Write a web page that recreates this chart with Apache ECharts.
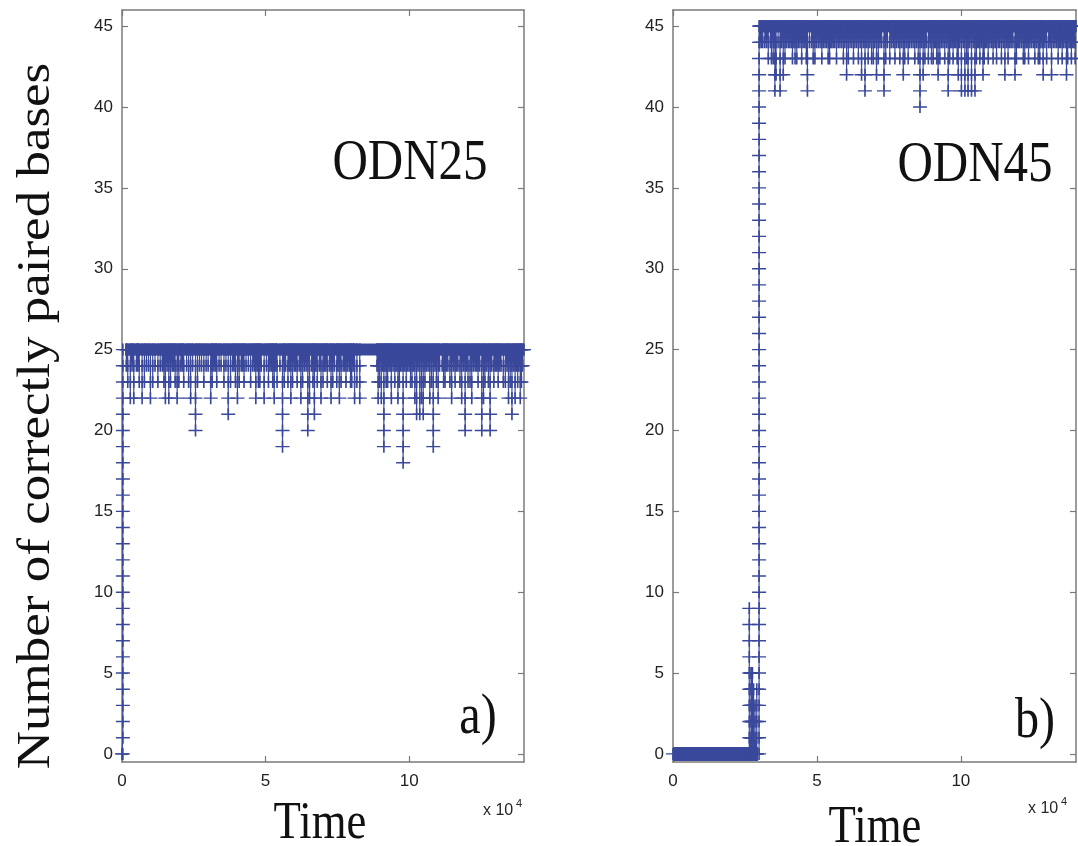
<!DOCTYPE html>
<html>
<head>
<meta charset="utf-8">
<script src="https://cdn.jsdelivr.net/npm/echarts@6/dist/echarts.min.js"></script>
<style>
html,body{margin:0;padding:0;background:#fff;}
#chart{width:1078px;height:846px;}
</style>
</head>
<body>
<div id="chart"></div>
<script>
// ---------- DATA (time in units of 1e4) ----------
const xTicks = [0, 5, 10];
const yTicks = [0, 5, 10, 15, 20, 25, 30, 35, 40, 45];

// Panel a) ODN25
const riseTimeA = 0.03;
const riseLevelsA = [0,1,2,3,4,5,6,7,8,9,10,11,12,13,14,15,16,17,18,19,20,21,22,23,24,25];
const plateauA = [0.11, 14, 25]; // start, end, level
const dropTimesA = [0.20,0.29,0.41,0.50,0.60,0.70,0.85,0.99,1.15,1.25,1.40,1.51,1.63,1.75,1.85,1.92,2.05,2.15,2.25,2.39,
  2.56,2.70,2.85,3.00,3.09,3.20,3.30,3.45,3.55,3.70,3.85,3.95,4.02,4.15,4.25,4.40,4.55,4.66,4.75,4.85,
  4.95,5.10,5.20,5.30,5.40,5.59,5.70,5.78,5.88,6.00,6.10,6.23,6.35,6.47,6.60,6.70,6.80,6.93,7.05,7.15,
  7.28,7.40,7.48,7.57,7.70,7.80,7.92,8.00,8.10,8.28,8.92,9.03,9.12,9.20,9.30,9.38,9.50,9.61,9.70,9.79,
  9.90,10.00,10.10,10.20,10.26,10.37,10.49,10.60,10.72,10.84,10.95,11.01,11.15,11.25,11.35,11.48,11.60,11.70,11.83,11.95,
  12.05,12.18,12.30,12.40,12.53,12.70,12.82,13.00,13.10,13.20,13.35,13.46,13.58,13.69,13.78,13.87,13.95];
const dropMinsA = [23,22,22,24,23,22,24,22,24,23,24,22,22,24,23,22,24,23,24,22,
  20,24,23,24,22,24,23,24,23,21,24,23,22,24,23,24,24,22,23,24,
  22,23,24,22,23,19,24,23,22,24,23,22,24,20,24,21,23,22,24,23,
  22,24,23,22,24,23,24,23,22,22,22,22,19,23,24,22,23,22,24,18,
  23,24,23,22,21,21,21,24,22,19,23,22,24,23,24,22,23,24,22,20,
  23,22,24,23,20,24,20,24,23,24,23,22,21,22,23,22,24];
const shallowTimesA = [0.15,0.35,0.55,0.78,0.92,1.07,1.33,1.46,1.57,1.69,1.80,1.98,2.10,2.32,2.46,2.63,2.77,2.93,3.14,3.25,
  3.38,3.62,3.78,3.90,4.08,4.20,4.32,4.48,4.61,4.71,4.80,5.03,5.15,5.25,5.35,5.50,5.65,5.83,5.94,6.05,
  6.17,6.29,6.41,6.53,6.65,6.75,6.87,7.00,7.10,7.22,7.34,7.52,7.63,7.75,7.86,7.96,8.05,8.18,8.88,8.97,
  9.08,9.16,9.25,9.34,9.44,9.55,9.66,9.75,9.85,9.95,10.05,10.15,10.31,10.43,10.55,10.66,10.78,10.90,11.06,11.20,
  11.30,11.42,11.54,11.65,11.77,11.89,12.00,12.12,12.24,12.35,12.46,12.59,12.64,12.76,12.88,12.95,13.05,13.15,13.28,13.41,
  13.52,13.64,13.73,13.82,13.91];
const shallowMinsA = [24,24,24,23,24,23,24,23,24,23,24,23,24,23,24,23,24,24,23,24,
  24,24,23,24,23,24,24,23,24,24,23,24,24,23,24,24,23,24,23,24,
  24,23,24,22,23,24,24,23,24,24,23,24,23,24,24,23,24,23,24,23,
  24,24,23,24,24,24,23,24,24,24,23,24,24,22,23,24,23,24,24,23,
  24,23,24,24,23,24,24,23,24,24,24,22,23,23,24,23,24,24,23,24,
  23,24,24,24,23];

// Panel b) ODN45
const plateauB0 = [0, 2.96, 0];   // start, end, level
const spikeTimesB = [2.65, 2.71, 2.73, 2.76, 2.80, 2.85, 2.91];
const spikeMaxB = [9, 5, 5, 5, 4, 3, 4];
const riseTimeB = 2.99;
const riseLevelsB = [0,1,2,3,4,5,6,7,8,9,10,11,12,13,14,15,16,17,18,19,20,21,22,23,24,25,26,27,28,29,30,31,32,33,34,35,36,37,38,39,40,41,42,43,44,45];
const plateauB1 = [2.99, 14, 45];
const dropTimesB = [3.02,3.07,3.12,3.19,3.31,3.48,3.54,3.58,3.72,3.83,3.95,4.06,4.15,4.24,4.35,4.47,4.58,4.67,4.81,4.93,
  5.05,5.17,5.28,5.39,5.48,5.57,5.68,5.80,5.92,6.03,6.15,6.32,6.44,6.55,6.67,6.78,6.90,7.07,7.19,7.33,
  7.45,7.53,7.65,7.77,7.88,8.00,8.11,8.17,8.28,8.40,8.58,8.69,8.80,8.87,9.04,9.12,9.21,9.33,9.44,9.56,
  9.65,9.73,9.82,9.91,10.02,10.14,10.25,10.37,10.49,10.58,10.66,10.77,10.85,10.95,11.07,11.15,11.24,11.35,11.53,11.64,
  11.75,11.88,11.97,12.05,12.22,12.30,12.40,12.57,12.69,12.78,12.86,12.92,13.05,13.15,13.27,13.38,13.47,13.56,13.67,13.76,
  13.84,13.93];
const dropMinsB = [44,44,44,44,43,43,41,42,41,42,44,44,43,43,44,43,44,41,44,43,
  44,43,44,43,44,44,43,44,43,42,44,44,43,42,41,43,43,42,44,41,
  44,43,44,44,43,42,44,43,44,43,40,42,44,43,43,44,42,44,43,41,
  44,43,44,42,41,41,41,41,41,44,43,42,44,43,44,44,43,44,42,43,
  44,42,44,44,43,44,44,43,43,44,42,44,44,42,44,43,44,44,42,44,
  43,44];
const shallowTimesB = [3.25,3.38,3.42,3.65,3.77,3.89,4.01,4.11,4.20,4.30,4.41,4.52,4.63,4.74,4.87,4.99,5.11,5.22,5.33,5.44,
  5.52,5.62,5.74,5.86,5.97,6.09,6.21,6.27,6.38,6.50,6.61,6.72,6.84,6.96,7.01,7.13,7.25,7.39,7.59,7.71,
  7.83,7.94,8.05,8.22,8.34,8.46,8.52,8.63,8.75,8.93,8.98,9.08,9.16,9.27,9.38,9.50,9.61,9.69,9.78,9.87,
  9.96,10.08,10.20,10.31,10.43,10.54,10.62,10.71,10.81,10.90,11.01,11.12,11.20,11.30,11.41,11.47,11.59,11.70,11.81,11.93,
  12.01,12.11,12.17,12.27,12.35,12.46,12.52,12.63,12.74,12.83,12.98,13.10,13.21,13.33,13.43,13.52,13.62,13.71,13.80,13.89,
  13.97];
const shallowMinsB = [44,44,43,44,44,43,44,44,44,43,44,44,43,44,43,44,44,44,44,43,
  44,44,44,44,44,43,44,43,44,44,44,44,44,43,44,43,44,43,44,43,
  44,44,43,44,44,44,43,44,43,44,43,44,43,43,44,44,43,44,44,43,
  44,44,43,44,44,43,44,44,43,44,44,43,44,44,43,44,44,44,44,43,
  44,44,43,44,43,44,44,44,43,44,43,44,44,44,44,43,44,43,44,44,
  43];

// ---------- BUILD TRACES ----------
function excursion(out, t, base, extreme) {
  out.push([t, base]);
  const step = extreme > base ? 1 : -1;
  for (let v = base + step; ; v += step) { out.push([t, v]); if (v === extreme) break; }
  out.push([t, base]);
}
function mergeDrops(t1, v1, t2, v2) {
  const all = t1.map((t, i) => [t, v1[i]]).concat(t2.map((t, i) => [t, v2[i]]));
  all.sort((a, b) => a[0] - b[0]);
  return all;
}
function traceA() {
  const d = [[0, 0]];
  riseLevelsA.forEach(l => d.push([riseTimeA, l]));
  mergeDrops(dropTimesA, dropMinsA, shallowTimesA, shallowMinsA)
    .forEach(p => excursion(d, p[0], plateauA[2], p[1]));
  d.push([plateauA[1], plateauA[2]]);
  return d;
}
function traceB() {
  const d = [[0, plateauB0[2]]];
  spikeTimesB.forEach((t, i) => excursion(d, t, plateauB0[2], spikeMaxB[i]));
  riseLevelsB.forEach(l => d.push([riseTimeB, l]));
  mergeDrops(dropTimesB, dropMinsB, shallowTimesB, shallowMinsB)
    .forEach(p => excursion(d, p[0], plateauB1[2], p[1]));
  d.push([plateauB1[1], plateauB1[2]]);
  return d;
}

// ---------- CHART ----------
const BLUE = '#3a489b';
const AXC = '#7a7a7a';
const PLUS = 'path://M0,5.3H12V6.7H0Z M5.3,0H6.7V12H5.3Z';
const labelFont = {fontFamily: 'Liberation Sans, Arial, sans-serif', fontSize: 17, color: '#222'};

function xAx(gi, pos, labels) {
  return {type: 'value', gridIndex: gi, position: pos, min: 0, max: 14,
    axisLine: {show: true, onZero: false, lineStyle: {color: AXC, width: 1.5}},
    axisTick: {show: true, inside: true, length: 6, customValues: xTicks, lineStyle: {color: AXC, width: 1.2}},
    axisLabel: Object.assign({show: labels, margin: 11, customValues: xTicks}, labelFont),
    splitLine: {show: false}};
}
function yAx(gi, pos, labels) {
  return {type: 'value', gridIndex: gi, position: pos, min: -0.5, max: 46,
    axisLine: {show: true, onZero: false, lineStyle: {color: AXC, width: 1.5}},
    axisTick: {show: true, inside: true, length: 6, customValues: yTicks, lineStyle: {color: AXC, width: 1.2}},
    axisLabel: Object.assign({show: labels, margin: 9, customValues: yTicks}, labelFont),
    splitLine: {show: false}};
}
function band(xi, p, w) {
  return {type: 'line', xAxisIndex: xi, yAxisIndex: xi, data: [[p[0], p[2]], [p[1], p[2]]],
    symbol: 'none', lineStyle: {color: BLUE, width: w}, silent: true, z: 3};
}
function main(xi, data) {
  return {type: 'line', xAxisIndex: xi, yAxisIndex: xi, data: data,
    symbol: PLUS, symbolSize: [14, 12], showSymbol: true,
    itemStyle: {color: BLUE}, lineStyle: {color: BLUE, width: 1.2}, silent: true, z: 4};
}
function serif(text, x, y, size, rot, extra) {
  return Object.assign({type: 'text', x: x, y: y, rotation: rot || 0, scaleX: 0.86, silent: true,
    style: {text: text, fontFamily: 'Liberation Serif, Times New Roman, serif', fontSize: size,
      fill: '#111', align: 'center', verticalAlign: 'middle'}}, extra || {});
}
function sans(text, x, y, size) {
  return {type: 'text', x: x, y: y, silent: true,
    style: {text: text, fontFamily: 'Liberation Sans, Arial, sans-serif', fontSize: size,
      fill: '#262626', align: 'left', verticalAlign: 'middle'}};
}

const chart = echarts.init(document.getElementById('chart'), null, {renderer: 'canvas'});
chart.setOption({
  animation: false,
  backgroundColor: '#fff',
  grid: [
    {left: 122, top: 10, width: 402, height: 752},
    {left: 673, top: 10, width: 403, height: 752}
  ],
  xAxis: [xAx(0, 'bottom', true), xAx(1, 'bottom', true), xAx(0, 'top', false), xAx(1, 'top', false)],
  yAxis: [yAx(0, 'left', true), yAx(1, 'left', true), yAx(0, 'right', false), yAx(1, 'right', false)],
  series: [
    band(0, plateauA, 12),
    main(0, traceA()),
    band(1, plateauB0, 14),
    band(1, plateauB1, 12),
    main(1, traceB())
  ],
  graphic: [
    Object.assign(serif('Number of correctly paired bases', 37, 416, 53, Math.PI / 2), {scaleX: 1, scaleY: 0.86}),
    serif('Time', 320, 824, 52),
    serif('Time', 875, 828, 52),
    serif('ODN25', 410, 164, 57),
    serif('ODN45', 975, 166, 57),
    serif('a)', 478, 718, 56),
    serif('b)', 1035, 722, 56),
    sans('x 10', 483, 811, 16),
    sans('4', 516, 804, 11),
    sans('x 10', 1028, 809, 16),
    sans('4', 1061, 802, 11)
  ]
});
</script>
</body>
</html>
